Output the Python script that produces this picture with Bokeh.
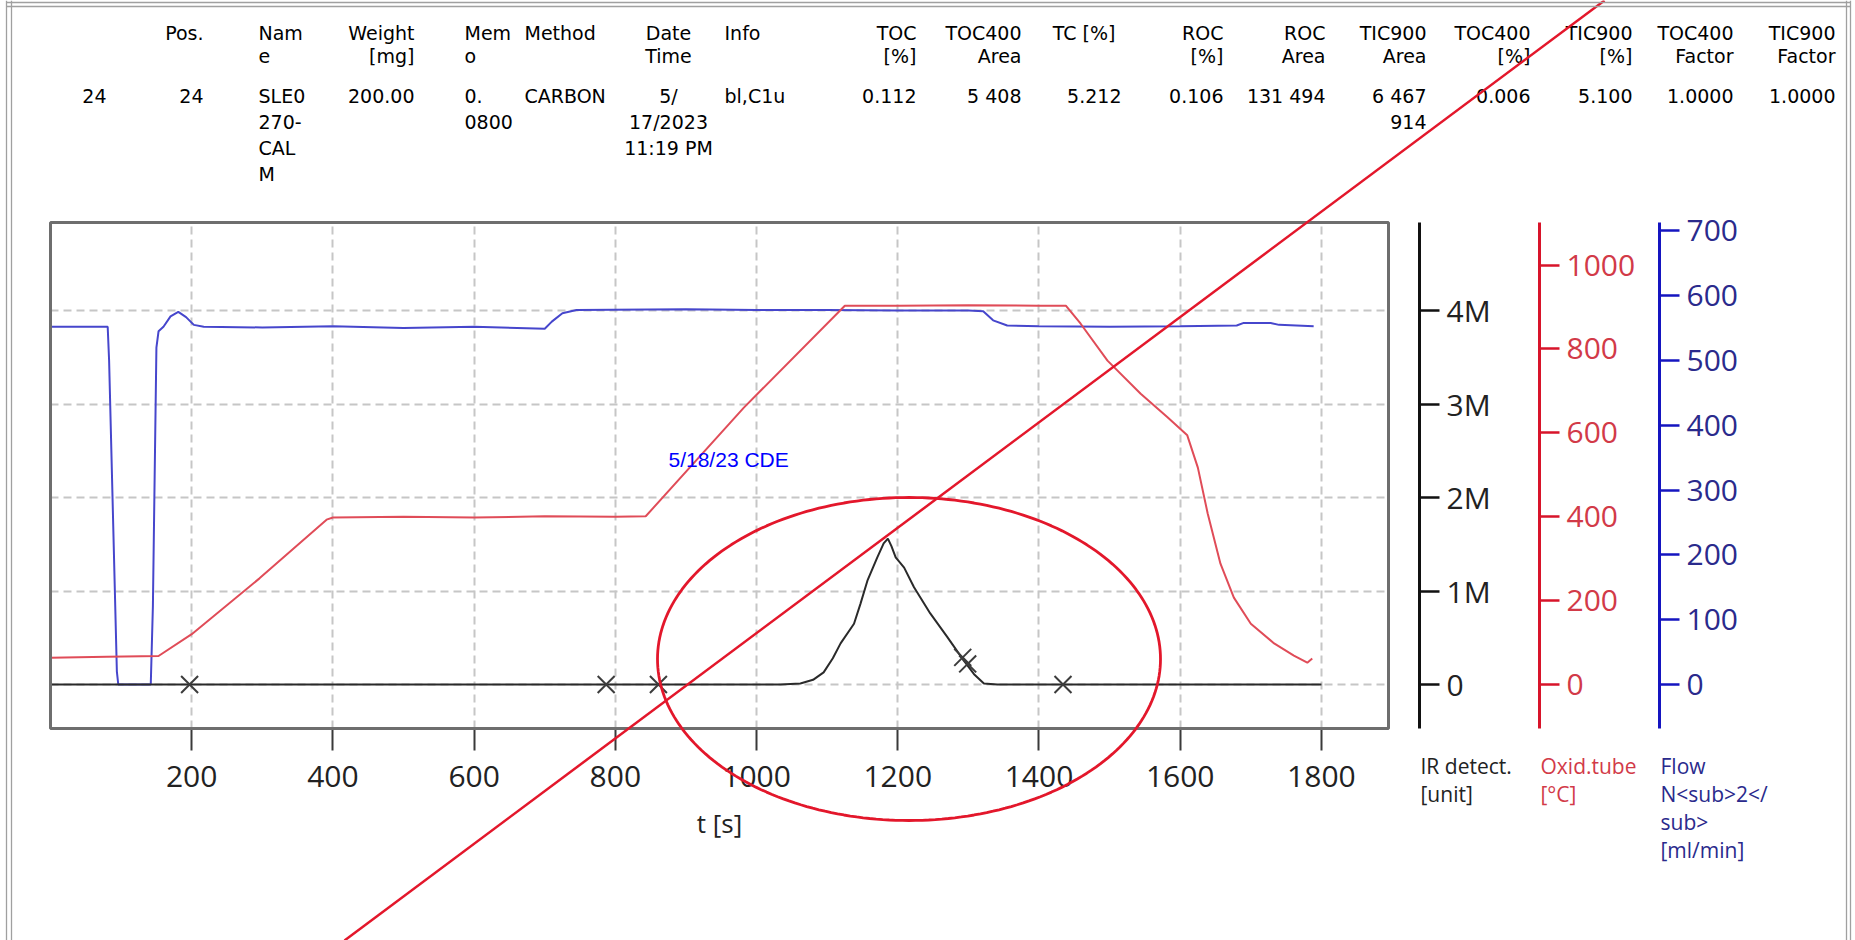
import numpy as np
from bokeh.plotting import figure
from bokeh.models import (Range1d, LinearAxis, FixedTicker, Label, Arrow,
                          PolyAnnotation, BoxAnnotation, Grid)
from bokeh.embed import file_html
from bokeh.resources import INLINE

# ---------------- data ----------------
# IR detector signal (millions of units) vs time [s]
t_ir = [0, 1034, 1062, 1080, 1095, 1108, 1119, 1138, 1147, 1157, 1171, 1180, 1186,
        1191, 1197, 1209, 1223, 1246, 1270, 1293, 1308, 1322, 1341, 1800]
ir_m = [0, 0, 0.01, 0.05, 0.13, 0.28, 0.44, 0.65, 0.86, 1.11, 1.36, 1.51, 1.56,
        1.48, 1.36, 1.25, 1.04, 0.76, 0.51, 0.26, 0.11, 0.01, 0, 0]

# oxidation tube temperature [°C] vs time [s]
t_temp = [0, 80, 153, 200, 296, 391, 400, 500, 600, 700, 800, 843, 982, 1125, 1200,
          1300, 1400, 1438, 1459, 1497, 1544, 1582, 1610, 1625, 1639, 1657, 1676,
          1700, 1733, 1761, 1780, 1787]
temp_c = [64, 66, 68, 120, 253, 393, 398, 400, 398, 401, 400, 401, 660, 903, 903,
          904, 903, 903, 860, 772, 693, 637, 594, 517, 407, 288, 207, 145, 98, 69,
          52, 62]

# N2 flow [ml/min] vs time [s]
t_flow = [0, 81, 83, 94, 96, 142, 145, 150, 153, 160, 170, 181, 192, 203, 217, 300,
          400, 500, 600, 700, 710, 725, 745, 900, 1000, 1100, 1200, 1300, 1321, 1335,
          1355, 1400, 1500, 1600, 1680, 1690, 1728, 1740, 1789]
flow_ml = [552, 552, 500, 20, 0, 0, 120, 520, 545, 552, 568, 575, 567, 555, 552, 551,
           553, 550, 552, 549, 560, 573, 578, 579, 578, 578, 577, 577, 576, 562, 554,
           553, 552, 553, 554, 558, 558, 555, 553]

# integration markers
t_marks = [197, 787, 861, 1292, 1299, 1434]
ir_marks = [0, 0, 0, 0.29, 0.22, 0]

x_ticks = [200, 400, 600, 800, 1000, 1200, 1400, 1600, 1800]
ir_ticks = [0, 1, 2, 3, 4]
ir_tick_labels = ["0", "1M", "2M", "3M", "4M"]
temp_ticks = [0, 200, 400, 600, 800, 1000]
flow_ticks = [0, 100, 200, 300, 400, 500, 600, 700]
x_title = "t [s]"

axis_titles = [["IR detect.", "[unit]"],
               ["Oxid.tube", "[°C]"],
               ["Flow", "N<sub>2</", "sub>", "[ml/min]"]]

col_headers = [[], ["Pos."], ["Nam", "e"], ["Weight", "[mg]"], ["Mem", "o"], ["Method"],
               ["Date", "Time"], ["Info"], ["TOC", "[%]"], ["TOC400", "Area"], ["TC  [%]"],
               ["ROC", "[%]"], ["ROC", "Area"], ["TIC900", "Area"], ["TOC400", "[%]"],
               ["TIC900", "[%]"], ["TOC400", "Factor"], ["TIC900", "Factor"]]
col_values = [["24"], ["24"], ["SLE0", "270-", "CAL", "M"], ["200.00"], ["0.", "0800"],
              ["CARBON"], ["5/", "17/2023", "11:19 PM"], ["bl,C1u"], ["0.112"], ["5 408"],
              ["5.212"], ["0.106"], ["131 494"], ["6 467", "914"], ["0.006"], ["5.100"],
              ["1.0000"], ["1.0000"]]
note_text = "5/18/23 CDE"

# ---------------- layout (pixels on the page) ----------------
W, H = 1855, 940
CX0, CX1 = 50, 1388        # chart box left / right
CY1, CY0 = 222, 728        # chart box top / bottom
ZERO = 684                 # pixel row of value 0 on the three y scales
X_MAX = 1895               # seconds at the right edge of the chart box
KX = (CX1 - CX0) / X_MAX   # px per second
K_IR, K_T, K_F = 93.5, 0.4195, 0.648   # px per 1M, per degC, per ml/min

col_x = [106, 203, 258, 414, 464, 524, 668, 724, 916, 1021, 1121, 1223, 1325, 1426,
         1530, 1632, 1733, 1835]
col_align = ["right", "right", "left", "right", "left", "left", "center", "left",
             "right", "right", "right", "right", "right", "right", "right", "right",
             "right", "right"]
hdr_base = [32, 55]
val_base = [95, 121, 147, 173]
axis_px = [1419, 1539, 1659]
title_base = [765, 793, 821, 849]


def sx(px):
    return (px - CX0) / KX


def sy(py):
    return (ZERO - py) / K_IR


def st(py):
    return (ZERO - py) / K_T


def sf(py):
    return (ZERO - py) / K_F


p = figure(width=W, height=H, output_backend="svg", toolbar_location=None,
           x_range=Range1d(sx(0), sx(W)), y_range=Range1d(sy(H), sy(0)),
           x_axis_location=None, y_axis_location=None, min_border=0)
p.min_border_left = p.min_border_right = p.min_border_top = p.min_border_bottom = 0
p.outline_line_color = None
p.background_fill_color = "white"
p.border_fill_color = "white"
for g in p.grid:
    g.visible = False

p.extra_y_ranges = {"temp": Range1d(st(H), st(0)), "flow": Range1d(sf(H), sf(0))}

XB = (0, X_MAX)
IRB = (sy(CY0), sy(CY1))
TB = (st(CY0), st(CY1))
FB = (sf(CY0), sf(CY1))

# dashed grid limited to the chart box
grid_style = dict(grid_line_color="#c6c6c6", grid_line_width=2, grid_line_dash="8 5")
if "cross_bounds" in Grid.properties():
    p.add_layout(Grid(dimension=0, ticker=FixedTicker(ticks=x_ticks), bounds=XB,
                      cross_bounds=IRB, **grid_style))
    p.add_layout(Grid(dimension=1, ticker=FixedTicker(ticks=ir_ticks), bounds=IRB,
                      cross_bounds=XB, **grid_style))
else:
    p.segment(x0=x_ticks, y0=[IRB[0]] * len(x_ticks), x1=x_ticks,
              y1=[IRB[1]] * len(x_ticks), line_color="#c6c6c6", line_width=2,
              line_dash="8 5")
    p.segment(x0=[0] * len(ir_ticks), y0=ir_ticks, x1=[X_MAX] * len(ir_ticks),
              y1=ir_ticks, line_color="#c6c6c6", line_width=2, line_dash="8 5")

# curves
p.line(t_flow, flow_ml, y_range_name="flow", line_color="#4646cc", line_width=2)
p.line(t_temp, temp_c, y_range_name="temp", line_color="#e04c58", line_width=2)
p.line(t_ir, ir_m, line_color="#2a2a2a", line_width=2)
p.scatter(t_marks, ir_marks, marker="x", size=24, line_color="#3c3c3c", line_width=2)

# chart box
p.add_layout(BoxAnnotation(left=XB[0], right=XB[1], bottom=IRB[0], top=IRB[1],
                           fill_color=None, fill_alpha=0, line_color="#6e6e6e",
                           line_alpha=1, line_width=3))

# x axis at the bottom of the chart box
xa = LinearAxis(fixed_location=IRB[0], bounds=XB, ticker=FixedTicker(ticks=x_ticks))
xa.axis_line_color = None
xa.major_tick_out = 22
xa.major_tick_in = 0
xa.major_tick_line_width = 2
xa.major_tick_line_color = "#3a3a3a"
xa.minor_tick_line_color = None
xa.major_label_text_font = "Open Sans"
xa.major_label_text_font_size = "30px"
xa.major_label_text_color = "#222222"
xa.major_label_standoff = 15
p.add_layout(xa, "below")
p.add_layout(Label(x=sx(719), y=sy(822), text=x_title, text_align="center",
                   text_baseline="alphabetic", text_font="Open Sans",
                   text_font_size="26px", text_color="#222222"))


def right_axis(rng, bounds, ticks, loc_px, color, label_color, overrides=None):
    kw = {} if rng is None else {"y_range_name": rng}
    ax = LinearAxis(fixed_location=sx(loc_px), bounds=bounds,
                    ticker=FixedTicker(ticks=ticks), **kw)
    ax.axis_line_color = color
    ax.axis_line_width = 3
    ax.major_tick_out = 20
    ax.major_tick_in = 0
    ax.major_tick_line_width = 2.5
    ax.major_tick_line_color = color
    ax.minor_tick_line_color = None
    ax.major_label_standoff = 7
    ax.major_label_text_font = "Open Sans"
    ax.major_label_text_font_size = "30px"
    ax.major_label_text_color = label_color
    if overrides:
        ax.major_label_overrides = overrides
    p.add_layout(ax, "right")
    return ax


right_axis(None, IRB, ir_ticks, axis_px[0], "#111111", "#222222",
           dict(zip(ir_ticks, ir_tick_labels)))
right_axis("temp", TB, temp_ticks, axis_px[1], "#d8142a", "#d23a48")
right_axis("flow", FB, flow_ticks, axis_px[2], "#1515c0", "#2a2a8c")

# axis titles under the right axes
title_col = ["#222222", "#d23a48", "#2a2a8c"]
for lines, tx, tc in zip(axis_titles, axis_px, title_col):
    for j, s in enumerate(lines):
        p.add_layout(Label(x=sx(tx + 1), y=sy(title_base[j]), text=s, text_align="left",
                           text_baseline="alphabetic", text_font="Open Sans",
                           text_font_size="21px", text_color=tc))

# header table
for hdr, vals, cx, al in zip(col_headers, col_values, col_x, col_align):
    for j, s in enumerate(hdr):
        p.add_layout(Label(x=sx(cx), y=sy(hdr_base[j]), text=s, text_align=al,
                           text_baseline="alphabetic", text_font="DejaVu Sans",
                           text_font_size="19px", text_color="#000000"))
    for j, s in enumerate(vals):
        p.add_layout(Label(x=sx(cx), y=sy(val_base[j]), text=s, text_align=al,
                           text_baseline="alphabetic", text_font="DejaVu Sans",
                           text_font_size="19px", text_color="#000000"))

# hand annotations on the printout
p.add_layout(Label(x=sx(668), y=sy(459), text=note_text, text_align="left",
                   text_baseline="alphabetic", text_font="Liberation Sans",
                   text_font_size="21px", text_color="#0000ff"))

th = np.linspace(0, 2 * np.pi, 241)
ex = [sx(908.5 + 251.5 * np.cos(a)) for a in th]
ey = [sy(658.5 + 161.5 * np.sin(a)) for a in th]
p.add_layout(PolyAnnotation(xs=ex, ys=ey, fill_color=None, fill_alpha=0,
                            line_color="#e3172b", line_alpha=1, line_width=2.8))
p.add_layout(Arrow(x_start=sx(1604), y_start=sy(0), x_end=sx(344), y_end=sy(940),
                   end=None, line_color="#e3172b", line_width=2.5))

# page border lines
for bx in (6, 11, 1846, 1850):
    p.add_layout(Arrow(x_start=sx(bx), y_start=sy(0), x_end=sx(bx), y_end=sy(H),
                       end=None, line_color="#a0a0a0", line_width=1.3))
for by in (2, 6):
    p.add_layout(Arrow(x_start=sx(6), y_start=sy(by), x_end=sx(1850), y_end=sy(by),
                       end=None, line_color="#a0a0a0", line_width=1.3))

open("out.html", "w").write(file_html(p, INLINE))
